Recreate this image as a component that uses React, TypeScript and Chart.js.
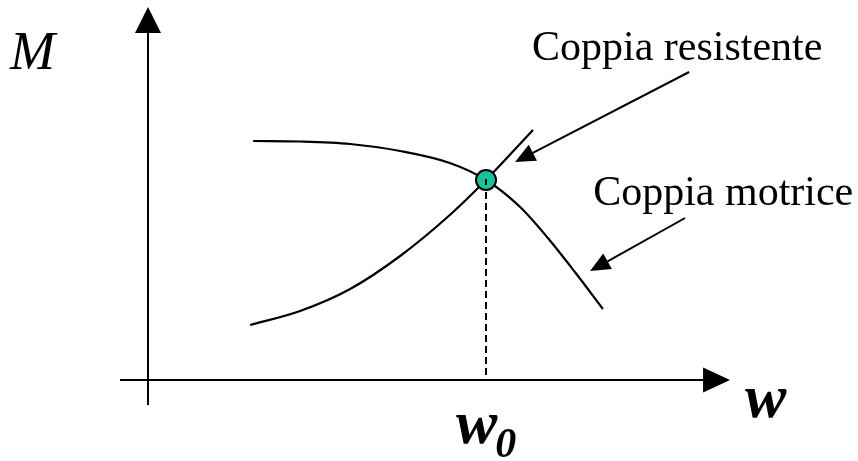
import React, { useEffect, useRef } from "react";
import { Chart, registerables } from "chart.js";

Chart.register(...registerables);

// Schematic units: origin at the axes crossing, w0 = 10, equilibrium torque = 10
const motriceW = [3.11, 4.5, 5.98, 7.46, 8.93, 10, 11.01, 11.83, 12.63, 13.46];
const motriceM = [11.95, 11.925, 11.8, 11.45, 10.85, 10, 8.65, 7.1, 5.4, 3.55];
const resistenteW = [3.02, 4.5, 5.98, 7.46, 8.93, 10, 11.39];
const resistenteM = [2.75, 3.45, 4.55, 6.2, 8.25, 10, 12.5];
const equilibriumW = [10];
const equilibriumM = [10];

const labelMotrice = "Coppia motrice";
const labelResistente = "Coppia resistente";
const axisLabelY = "M";
const axisLabelX = "w";
const labelW0 = "w";
const labelW0Sub = "0";

const X_MIN = -4.379;
const X_MAX = 21.006;
const Y_MIN = -4.05;
const Y_MAX = 19;

const SERIF = '"Liberation Serif", "Times New Roman", serif';

function drawHead(ctx: CanvasRenderingContext2D, x1: number, y1: number, x2: number, y2: number, len: number, half: number) {
  const a = Math.atan2(y2 - y1, x2 - x1);
  const bx = x2 - len * Math.cos(a);
  const by = y2 - len * Math.sin(a);
  ctx.beginPath();
  ctx.moveTo(x2, y2);
  ctx.lineTo(bx + half * Math.sin(a), by - half * Math.cos(a));
  ctx.lineTo(bx - half * Math.sin(a), by + half * Math.cos(a));
  ctx.closePath();
  ctx.fill();
  return { bx, by };
}

function arrow(ctx: CanvasRenderingContext2D, x1: number, y1: number, x2: number, y2: number, len: number, half: number, lw: number) {
  const { bx, by } = drawHead(ctx, x1, y1, x2, y2, len, half);
  ctx.lineWidth = lw;
  ctx.beginPath();
  ctx.moveTo(x1, y1);
  ctx.lineTo(bx, by);
  ctx.stroke();
}

const decorPlugin = {
  id: "decor",
  beforeDatasetsDraw(chart: any) {
    const ctx = chart.ctx as CanvasRenderingContext2D;
    const xs = chart.scales.x;
    const ys = chart.scales.y;
    const px = (v: number) => xs.getPixelForValue(v);
    const py = (v: number) => ys.getPixelForValue(v);
    ctx.save();
    ctx.fillStyle = "#000";
    ctx.strokeStyle = "#000";
    ctx.lineCap = "butt";
    arrow(ctx, px(-0.83), py(0), px(17.22), py(0), 27, 12.5, 2);
    arrow(ctx, px(0), py(-1.25), px(0), py(18.65), 26, 13, 2);
    // dashed drop line from equilibrium point to the w axis
    ctx.lineWidth = 2;
    ctx.setLineDash([7, 4]);
    ctx.beginPath();
    ctx.moveTo(px(equilibriumW[0]), py(equilibriumM[0]) + 1);
    ctx.lineTo(px(equilibriumW[0]), py(0));
    ctx.stroke();
    ctx.setLineDash([]);
    ctx.restore();
  },
  afterDatasetsDraw(chart: any) {
    const ctx = chart.ctx as CanvasRenderingContext2D;
    const xs = chart.scales.x;
    const ys = chart.scales.y;
    const px = (v: number) => xs.getPixelForValue(v);
    const py = (v: number) => ys.getPixelForValue(v);
    ctx.save();
    ctx.fillStyle = "#000";
    ctx.strokeStyle = "#000";
    // small tick inside the marker (dashed line start)
    ctx.lineWidth = 2;
    ctx.beginPath();
    ctx.moveTo(px(equilibriumW[0]), py(equilibriumM[0]) - 1);
    ctx.lineTo(px(equilibriumW[0]), py(equilibriumM[0]) + 5);
    ctx.stroke();
    arrow(ctx, px(16.01), py(15.4), px(10.86), py(10.9), 20, 9, 2);
    arrow(ctx, px(15.89), py(8.1), px(13.08), py(5.45), 20, 9, 2);
    ctx.textAlign = "left";
    ctx.textBaseline = "alphabetic";
    ctx.font = `42px ${SERIF}`;
    ctx.fillText(labelResistente, px(11.36), py(16.0));
    ctx.fillText(labelMotrice, px(13.17), py(8.75));
    ctx.font = `italic 54px ${SERIF}`;
    ctx.fillText(axisLabelY, px(-4.08), py(15.55));
    ctx.font = `italic bold 62px ${SERIF}`;
    ctx.fillText(axisLabelX, px(17.66), py(-1.85));
    ctx.fillText(labelW0, px(9.11), py(-3.15));
    const w = ctx.measureText(labelW0).width;
    ctx.font = `italic bold 42px ${SERIF}`;
    ctx.fillText(labelW0Sub, px(9.11) + w - 2, py(-3.15) + 14);
    ctx.restore();
  },
};

export default function App() {
  const ref = useRef<HTMLCanvasElement | null>(null);
  useEffect(() => {
    document.body.style.margin = "0";
    const canvas = ref.current!;
    const chart = new Chart(canvas, {
      type: "line",
      data: {
        datasets: [
          {
            label: labelMotrice,
            data: motriceW.map((w, i) => ({ x: w, y: motriceM[i] })),
            borderColor: "#000",
            borderWidth: 2.2,
            pointRadius: 0,
            fill: false,
            cubicInterpolationMode: "monotone",
            order: 2,
          },
          {
            label: labelResistente,
            data: resistenteW.map((w, i) => ({ x: w, y: resistenteM[i] })),
            borderColor: "#000",
            borderWidth: 2.2,
            pointRadius: 0,
            fill: false,
            cubicInterpolationMode: "monotone",
            order: 2,
          },
          {
            label: "w0",
            data: equilibriumW.map((w, i) => ({ x: w, y: equilibriumM[i] })),
            showLine: false,
            pointRadius: 10,
            pointBackgroundColor: "#19c39a",
            pointBorderColor: "#000",
            pointBorderWidth: 2,
            order: 0,
          },
        ],
      },
      options: {
        responsive: false,
        animation: false,
        events: [],
        layout: { padding: 0, autoPadding: false },
        plugins: { legend: { display: false }, tooltip: { enabled: false }, title: { display: false } },
        scales: {
          x: { type: "linear", min: X_MIN, max: X_MAX, display: false },
          y: { type: "linear", min: Y_MIN, max: Y_MAX, display: false },
        },
      },
      plugins: [decorPlugin],
    });
    return () => chart.destroy();
  }, []);
  return (
    <div style={{ position: "absolute", left: 0, top: 0, width: 858, height: 461, background: "#fff" }}>
      <canvas ref={ref} width={858} height={461} style={{ width: 858, height: 461, display: "block" }} />
    </div>
  );
}
